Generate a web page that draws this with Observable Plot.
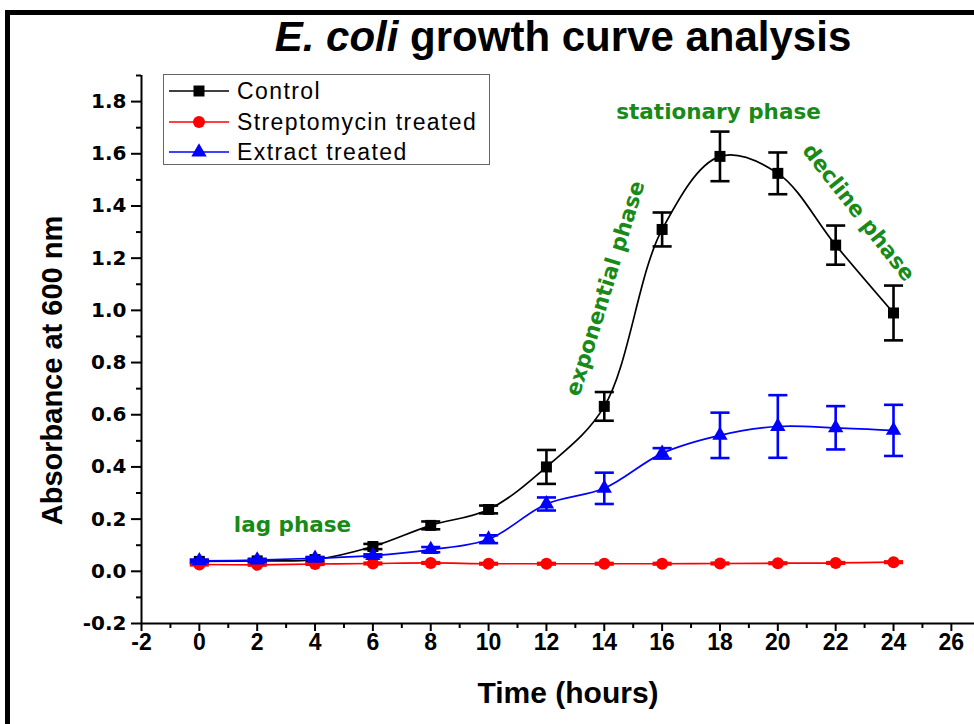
<!DOCTYPE html>
<html>
<head>
<meta charset="utf-8">
<script src="https://cdn.jsdelivr.net/npm/d3@7"></script>
<script src="https://cdn.jsdelivr.net/npm/@observablehq/plot@0.6"></script>
<style>
  body { margin: 0; background: #fff; }
  #wrap { position: relative; width: 974px; height: 724px; overflow: hidden; background: #fff; }
  #frame { position: absolute; left: 5px; top: 10px; width: 2000px; height: 2000px;
           border-left: 5px solid #000; border-top: 5px solid #000; pointer-events: none; }
  #title { height: 47px; padding-top: 15px; padding-left: 152px; text-align: center;
           font-family: "Liberation Sans", Arial, sans-serif; font-weight: bold; font-size: 42px;
           line-height: 43px; color: #000; white-space: nowrap; }
  #legend { position: absolute; left: 163px; top: 74px; width: 327px; height: 91px; box-sizing: border-box;
            border: 1px solid #666; background: #fff; font-family: "Liberation Sans", Arial, sans-serif; }
  #legend .row { position: absolute; left: 0; height: 30px; width: 100%; }
  #legend svg { position: absolute; left: 0; top: 0; }
  #legend span { position: absolute; left: 73px; top: 0; line-height: 30px; font-size: 23px; letter-spacing: 1.4px; color: #000; white-space: nowrap; }
  #chart svg text { font-weight: bold; }
</style>
</head>
<body>
<div id="wrap">
  <div id="title"><i>E. coli</i> growth curve analysis</div>
  <div id="chart"></div>
  <div id="legend"></div>
  <div id="frame"></div>
</div>
<script>
// ---- data ----
const hours = [0, 2, 4, 6, 8, 10, 12, 14, 16, 18, 20, 22, 24];

const seriesNames = ["Control", "Streptomycin treated", "Extract treated"];
const seriesColors = ["#000000", "#ff0000", "#0000ff"];
const seriesSymbols = ["square", "circle", "triangle"];

const control      = [0.038, 0.040, 0.045, 0.095, 0.176, 0.237, 0.400, 0.632, 1.310, 1.590, 1.525, 1.250, 0.990];
const controlErr   = [0.005, 0.005, 0.008, 0.010, 0.015, 0.015, 0.065, 0.055, 0.065, 0.095, 0.080, 0.075, 0.105];
const strep        = [0.026, 0.025, 0.028, 0.030, 0.032, 0.029, 0.029, 0.029, 0.029, 0.030, 0.031, 0.032, 0.035];
const strepErr     = [0.003, 0.003, 0.003, 0.003, 0.003, 0.003, 0.003, 0.003, 0.003, 0.003, 0.003, 0.003, 0.003];
const extract      = [0.040, 0.043, 0.050, 0.060, 0.083, 0.123, 0.258, 0.318, 0.452, 0.521, 0.555, 0.550, 0.540];
const extractErr   = [0.005, 0.005, 0.005, 0.005, 0.010, 0.015, 0.025, 0.060, 0.020, 0.087, 0.120, 0.083, 0.098];

const xTicks = [-2, 0, 2, 4, 6, 8, 10, 12, 14, 16, 18, 20, 22, 24, 26];
const xMinor = [-1, 1, 3, 5, 7, 9, 11, 13, 15, 17, 19, 21, 23, 25];
const yTicks = [-0.2, 0, 0.2, 0.4, 0.6, 0.8, 1.0, 1.2, 1.4, 1.6, 1.8];
const yMinor = [-0.1, 0.1, 0.3, 0.5, 0.7, 0.9, 1.1, 1.3, 1.5, 1.7, 1.9];

const phaseLabels = ["lag phase", "exponential phase", "stationary phase", "decline phase"];
const phaseX = [3.22, 14.04, 17.95, 22.79];
const phaseY = [0.176, 1.084, 1.759, 1.375];
const phaseAngle = [0, -73, 0, 52];

const xLabel = "Time (hours)";
const yLabel = "Absorbance at 600 nm";

// ---- build tables ----
const valueSets = [control, strep, extract];
const errSets = [controlErr, strepErr, extractErr];
const table = seriesNames.map((name, s) => hours.map((t, i) => ({
  series: name, t, v: valueSets[s][i], e: errSets[s][i]
})));
const phases = phaseLabels.map((label, i) => ({label, x: phaseX[i], y: phaseY[i], a: phaseAngle[i]}));

const capHalf = 0.33;
const symbolR = {square: 6.2, circle: 6, triangle: 5.7};
const drawOrder = [0, 1, 2];

const marks = [
  Plot.ruleY([-0.2], {strokeWidth: 2}),
  Plot.ruleX([-2], {strokeWidth: 2}),
  Plot.axisX(xTicks, {anchor: "bottom", tickSize: 8, tickPadding: 2, strokeWidth: 2, fontSize: 23,
                      fontFamily: "Liberation Sans Narrow, Liberation Sans, Arial, sans-serif", tickFormat: d => String(d), label: null}),
  Plot.axisX(xMinor, {anchor: "bottom", tickSize: 5, strokeWidth: 2, text: null, label: null}),
  Plot.axisY(yTicks, {anchor: "left", tickSize: 10, tickPadding: 5, strokeWidth: 2, fontSize: 20,
                      fontFamily: "DejaVu Sans, Verdana, sans-serif", tickFormat: d => d.toFixed(1), label: null}),
  Plot.axisY(yMinor, {anchor: "left", tickSize: 5, strokeWidth: 2, text: null, label: null})
];

for (const s of drawOrder) {
  const d = table[s];
  const c = seriesColors[s];
  marks.push(
    Plot.line(d, {x: "t", y: "v", stroke: c, strokeWidth: 1.7, curve: "catmull-rom"}),
    Plot.ruleX(d, {x: "t", y1: r => r.v - r.e, y2: r => r.v + r.e, stroke: c, strokeWidth: 2.6}),
    Plot.link(d, {x1: r => r.t - capHalf, x2: r => r.t + capHalf, y1: r => r.v + r.e, y2: r => r.v + r.e, stroke: c, strokeWidth: 2.6}),
    Plot.link(d, {x1: r => r.t - capHalf, x2: r => r.t + capHalf, y1: r => r.v - r.e, y2: r => r.v - r.e, stroke: c, strokeWidth: 2.6}),
    Plot.dot(d, {x: "t", y: "v", fill: c, stroke: "none", symbol: seriesSymbols[s], r: symbolR[seriesSymbols[s]]})
  );
}

marks.push(
  Plot.text(phases, {x: "x", y: "y", text: "label", rotate: "a", fill: "#178a17",
                     fontSize: 21.5, fontFamily: "DejaVu Sans, Verdana, sans-serif", fontWeight: "bold",
                     textAnchor: "middle", lineAnchor: "middle"}),
  Plot.text([xLabel], {frameAnchor: "bottom", dx: 10, dy: 70, fontSize: 30, lineAnchor: "middle", textAnchor: "middle",
                       fontFamily: "Liberation Sans, Arial, sans-serif", fontWeight: "bold", fill: "#000"}),
  Plot.text([yLabel], {frameAnchor: "left", dx: -89, dy: 21, rotate: -90, fontSize: 29, lineAnchor: "middle", textAnchor: "middle",
                       fontFamily: "Liberation Sans, Arial, sans-serif", fontWeight: "bold", fill: "#000"})
);

const chart = Plot.plot({
  width: 974,
  height: 662,
  marginLeft: 141,
  marginRight: 0,
  marginTop: 13,
  marginBottom: 101,
  x: {domain: [-2, 26.8], axis: null},
  y: {domain: [-0.2, 1.9], axis: null},
  style: {background: "transparent", overflow: "visible", color: "#000"},
  marks
});
document.getElementById("chart").appendChild(chart);

// ---- legend ----
const legend = d3.select("#legend");
const rowTops = [1, 32, 62];
seriesNames.forEach((name, i) => {
  const row = legend.append("div").attr("class", "row").style("top", rowTops[i] + "px");
  const svg = row.append("svg").attr("width", 72).attr("height", 30);
  svg.append("line").attr("x1", 5).attr("x2", 65).attr("y1", 15).attr("y2", 15)
     .attr("stroke", seriesColors[i]).attr("stroke-width", 1.6);
  const symType = {square: d3.symbolSquare, circle: d3.symbolCircle, triangle: d3.symbolTriangle}[seriesSymbols[i]];
  const rr = symbolR[seriesSymbols[i]];
  svg.append("path").attr("transform", "translate(35,15)")
     .attr("d", d3.symbol(symType, Math.PI * rr * rr)()).attr("fill", seriesColors[i]);
  row.append("span").text(name);
});
</script>
</body>
</html>
